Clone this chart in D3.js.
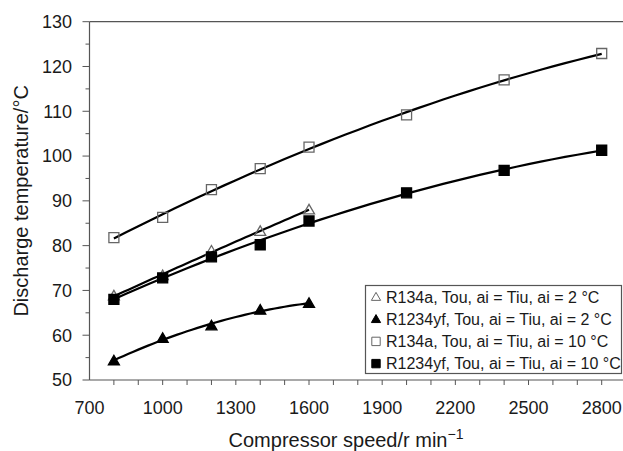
<!DOCTYPE html>
<html>
<head>
<meta charset="utf-8">
<script src="https://cdn.jsdelivr.net/npm/d3@7"></script>
<style>
	body { margin: 0; background: #fff; }
	text { font-family: "Liberation Sans", Arial, sans-serif; fill: #1a1a1a; }
</style>
</head>
<body>
<svg id="chart" width="623" height="451"></svg>
<script>

// ---- data ---------------------------------------------------------------- //

var speedsLow = [800, 1000, 1200, 1400, 1600],
	speedsHigh = [800, 1000, 1200, 1400, 1600, 2000, 2400, 2800];

var r134a2 = [68.8, 73.3, 78.8, 83.2, 88.0],
	r1234yf2 = [54.3, 59.3, 62.1, 65.6, 67.1],
	r134a10 = [81.8, 86.3, 92.5, 97.2, 102.0, 109.2, 117.0, 122.9],
	r1234yf10 = [68.0, 72.8, 77.5, 80.2, 85.5, 91.8, 96.8, 101.3];

var legendLabels = [
	"R134a, Tou, ai = Tiu, ai = 2 °C",
	"R1234yf, Tou, ai = Tiu, ai = 2 °C",
	"R134a, Tou, ai = Tiu, ai = 10 °C",
	"R1234yf, Tou, ai = Tiu, ai = 10 °C"
];

var xTicks = d3.range(700, 2801, 100),
	xLabels = [700, 1000, 1300, 1600, 1900, 2200, 2500, 2800],
	yTicks = d3.range(50, 131, 5),
	yLabels = [50, 60, 70, 80, 90, 100, 110, 120, 130];

var series = [
	{x: speedsLow, y: r134a2, shape: "tri", filled: false},
	{x: speedsLow, y: r1234yf2, shape: "tri", filled: true},
	{x: speedsHigh, y: r134a10, shape: "sq", filled: false},
	{x: speedsHigh, y: r1234yf10, shape: "sq", filled: true}
];

// ---- setup --------------------------------------------------------------- //

var svg = d3.select("#chart"),
	axisCol = "#555";

var xScale = d3.scaleLinear().domain([700, 2800]).range([89.5, 601.7]),
	yScale = d3.scaleLinear().domain([50, 130]).range([380, 21.7]);

// quadratic trend line (like a spreadsheet polynomial trendline)
function quadFit(xs, ys) {
	let n = xs.length, s = [0,0,0,0,0], t = [0,0,0];
	for (let i = 0; i < n; i++) {
		let x = xs[i] / 1000;
		for (let k = 0; k < 5; k++) s[k] += Math.pow(x, k);
		for (let k = 0; k < 3; k++) t[k] += ys[i] * Math.pow(x, k);
	}
	let A = [[s[0], s[1], s[2], t[0]], [s[1], s[2], s[3], t[1]], [s[2], s[3], s[4], t[2]]];
	for (let c = 0; c < 3; c++) {
		for (let r = c + 1; r < 3; r++) {
			let f = A[r][c] / A[c][c];
			for (let k = c; k < 4; k++) A[r][k] -= f * A[c][k];
		}
	}
	let b = [0,0,0];
	for (let r = 2; r >= 0; r--) {
		let v = A[r][3];
		for (let k = r + 1; k < 3; k++) v -= A[r][k] * b[k];
		b[r] = v / A[r][r];
	}
	return x => b[0] + b[1] * (x / 1000) + b[2] * (x / 1000) * (x / 1000);
}

// ---- axes ---------------------------------------------------------------- //

var x0 = xScale(700), yB = yScale(50), yT = yScale(130);

svg.append("line")
	.attr("x1", x0).attr("x2", 623).attr("y1", yB).attr("y2", yB)
	.attr("stroke", axisCol).attr("stroke-width", 1.2);
svg.append("line")
	.attr("x1", x0).attr("x2", 623).attr("y1", yT).attr("y2", yT)
	.attr("stroke", axisCol).attr("stroke-width", 1.2);
svg.append("line")
	.attr("x1", x0).attr("x2", x0).attr("y1", yT).attr("y2", yB)
	.attr("stroke", axisCol).attr("stroke-width", 1.2);

svg.append("g").selectAll("line")
	.data(xTicks.filter(d => d > 700))
	.enter().append("line")
	.attr("x1", d => xScale(d)).attr("x2", d => xScale(d))
	.attr("y1", yB).attr("y2", yB + 5)
	.attr("stroke", axisCol).attr("stroke-width", 1);

svg.append("g").selectAll("line")
	.data(yTicks)
	.enter().append("line")
	.attr("x1", d => x0 - (d % 10 == 0 ? 7 : 4)).attr("x2", x0)
	.attr("y1", d => yScale(d)).attr("y2", d => yScale(d))
	.attr("stroke", axisCol).attr("stroke-width", 1);

svg.append("g").selectAll("text")
	.data(xLabels)
	.enter().append("text")
	.attr("x", d => xScale(d))
	.attr("y", yB + 34)
	.attr("text-anchor", "middle")
	.attr("font-size", 18)
	.text(d => d);

svg.append("g").selectAll("text")
	.data(yLabels)
	.enter().append("text")
	.attr("x", x0 - 17.5)
	.attr("y", d => yScale(d))
	.attr("dy", "0.35em")
	.attr("text-anchor", "end")
	.attr("font-size", 18)
	.text(d => d);

svg.append("text")
	.attr("transform", `translate(28,${(yT + yB) / 2}) rotate(-90)`)
	.attr("text-anchor", "middle")
	.attr("font-size", 20)
	.text("Discharge temperature/°C");

var xt = svg.append("text")
	.attr("x", 346)
	.attr("y", 447)
	.attr("text-anchor", "middle")
	.attr("font-size", 20);
xt.append("tspan").text("Compressor speed/r min");
xt.append("tspan").attr("dy", -8).attr("font-size", 14).text("−1");

// ---- trend lines and markers --------------------------------------------- //

var line = d3.line().x(d => xScale(d[0])).y(d => yScale(d[1]));

series.forEach(function(s) {
	let f = quadFit(s.x, s.y),
		lo = d3.min(s.x), hi = d3.max(s.x),
		pts = d3.range(0, 41).map(i => {
			let x = lo + (hi - lo) * i / 40;
			return [x, f(x)];
		});
	svg.append("path")
		.attr("d", line(pts))
		.attr("fill", "none")
		.attr("stroke", "#000")
		.attr("stroke-width", 2.2);
});

function markerPath(shape, cx, cy, r) {
	if (shape == "sq") {
		return `M ${cx - r} ${cy - r} L ${cx + r} ${cy - r} L ${cx + r} ${cy + r} L ${cx - r} ${cy + r} Z`;
	}
	return `M ${cx} ${cy - r * 1.1} L ${cx + r * 1.1} ${cy + r * 0.8} L ${cx - r * 1.1} ${cy + r * 0.8} Z`;
}

series.forEach(function(s) {
	svg.append("g").selectAll("path")
		.data(s.x.map((x, i) => [x, s.y[i]]))
		.enter().append("path")
		.attr("d", d => markerPath(s.shape, xScale(d[0]), yScale(d[1]), 5))
		.attr("fill", s.filled ? "#000" : "none")
		.attr("stroke", s.filled ? "#000" : "#666")
		.attr("stroke-width", 1.3);
});

// ---- legend -------------------------------------------------------------- //

var lg = svg.append("g");
lg.append("rect")
	.attr("x", 365.5).attr("y", 285.5)
	.attr("width", 256).attr("height", 88)
	.attr("fill", "#fff")
	.attr("stroke", axisCol)
	.attr("stroke-width", 1.2);

lg.selectAll("path")
	.data(series)
	.enter().append("path")
	.attr("d", (s, i) => markerPath(s.shape, 376, 297 + i * 22.2, 4.2))
	.attr("fill", s => s.filled ? "#000" : "none")
	.attr("stroke", s => s.filled ? "#000" : "#666")
	.attr("stroke-width", 1);

lg.selectAll("text")
	.data(legendLabels)
	.enter().append("text")
	.attr("x", 386)
	.attr("y", (d, i) => 297 + i * 22.2)
	.attr("dy", "0.35em")
	.attr("font-size", 16)
	.text(d => d);

</script>
</body>
</html>
